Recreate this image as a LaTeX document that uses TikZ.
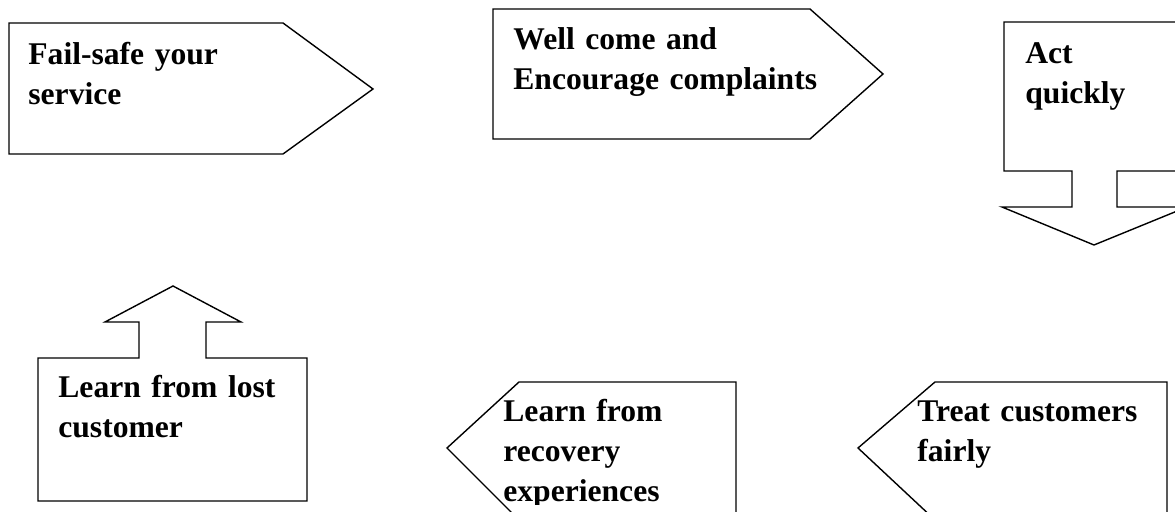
\documentclass[tikz,border=0pt]{standalone}
\usepackage{fontspec}
\setmainfont{Liberation Serif}
\usepackage{tikz}

\begin{document}
\begin{tikzpicture}[x=0.5pt,y=-0.5pt,
    outline/.style={black,line width=0.7pt,line join=miter},
    boxtext/.style={anchor=base west,inner sep=0pt,align=left,text width=260pt,
      font=\bfseries\fontsize{15.8}{20}\selectfont}]
      \useasboundingbox (0,0) rectangle (1175,512);
      \clip (0,0) rectangle (1175,512);
      \draw [outline] (9,23) -- (283,23) -- (373,89) -- (283,154) -- (9,154) -- cycle;
      \draw [outline] (493,9) -- (810,9) -- (883,74) -- (810,139) -- (493,139) -- cycle;
      \draw [outline] (1004,22) -- (1185,22) -- (1185,171) -- (1117,171) -- (1117,207) -- (1187,207)
        -- (1094,245) -- (1002,207) -- (1072,207) -- (1072,171) -- (1004,171) -- cycle;
      \draw [outline] (38,358) -- (139,358) -- (139,322) -- (105,322) -- (173,286) -- (241,322)
        -- (206,322) -- (206,358) -- (307,358) -- (307,501) -- (38,501) -- cycle;
      \draw [outline] (447,448) -- (519,382) -- (736,382) -- (736,520) -- (519,520) -- cycle;
      \draw [outline] (858,448) -- (935,382) -- (1167,382) -- (1167,520) -- (935,520) -- cycle;
      \node [boxtext] (failsafe) at (28,65) {Fail-safe your\\service};
      \node [boxtext] (welcome) at (513,50) {Well come and\\Encourage complaints};
      \node [boxtext] (actquick) at (1025,64) {Act\\quickly};
      \node [boxtext] (lostcust) at (58,398) {Learn from lost\\customer};
      \begin{scope}
        \clip (490,390) rectangle (730,505);
        \node [boxtext] (recovery) at (503,422) {Learn from\\recovery\\experiences};
      \end{scope}
      \node [boxtext] (fairly) at (917,422) {Treat customers\\fairly};
    \end{tikzpicture}
\end{document}
